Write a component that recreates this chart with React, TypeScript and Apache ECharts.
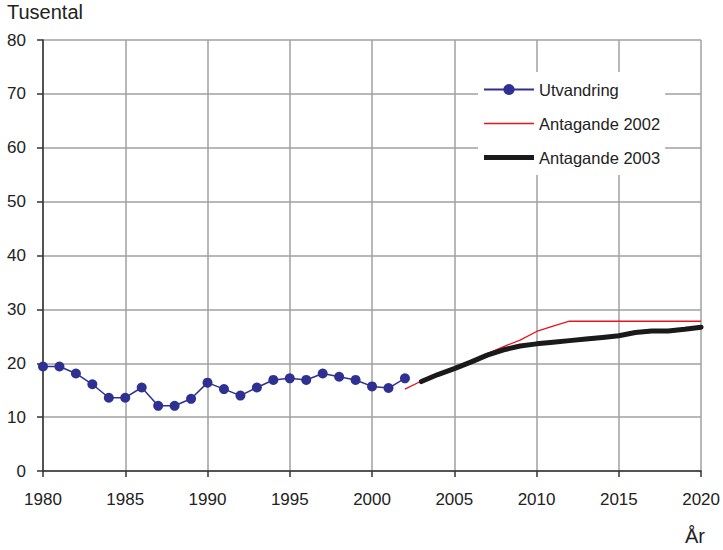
import React, { useEffect, useRef } from "react";
import * as echarts from "echarts";

const years: number[] = [1980, 1981, 1982, 1983, 1984, 1985, 1986, 1987, 1988, 1989, 1990, 1991, 1992, 1993, 1994, 1995, 1996, 1997, 1998, 1999, 2000, 2001, 2002];
const utvandring: number[] = [19.4, 19.4, 18.1, 16.1, 13.6, 13.6, 15.5, 12.1, 12.1, 13.4, 16.4, 15.2, 14.0, 15.5, 16.9, 17.2, 16.9, 18.1, 17.5, 16.9, 15.7, 15.4, 17.2];

const years2002: number[] = [2002, 2003, 2004, 2005, 2006, 2007, 2008, 2009, 2010, 2011, 2012, 2013, 2014, 2015, 2016, 2017, 2018, 2019, 2020];
const antagande2002: number[] = [15.2, 16.7, 18.0, 19.1, 20.3, 21.8, 23.1, 24.3, 25.9, 26.9, 27.8, 27.8, 27.8, 27.8, 27.8, 27.8, 27.8, 27.8, 27.8];

const years2003: number[] = [2003, 2004, 2005, 2006, 2007, 2008, 2009, 2010, 2011, 2012, 2013, 2014, 2015, 2016, 2017, 2018, 2019, 2020];
const antagande2003: number[] = [16.6, 17.9, 19.0, 20.2, 21.5, 22.5, 23.2, 23.6, 23.9, 24.2, 24.5, 24.8, 25.1, 25.7, 26.0, 26.0, 26.3, 26.7];

const seriesNames: string[] = ["Utvandring", "Antagande 2002", "Antagande 2003"];

const zip = (xs: number[], ys: number[]) => xs.map((x, i) => [x, ys[i]]);

const FONT = "'Liberation Sans', Arial, sans-serif";

export default function App() {
  const ref = useRef<HTMLDivElement>(null);
  useEffect(() => {
    if (!ref.current) return;
    const chart = echarts.init(ref.current, undefined, { renderer: "svg" });
    chart.setOption({
      animation: false,
      backgroundColor: "#ffffff",
      textStyle: { fontFamily: FONT },
      grid: { left: 43, right: 21, top: 40, bottom: 79, containLabel: false },
      xAxis: {
        type: "value",
        min: 1980,
        max: 2020,
        interval: 5,
        axisLine: { show: true, lineStyle: { color: "#333", width: 1.5 } },
        axisTick: { show: true, length: 6, lineStyle: { color: "#333", width: 1.5 } },
        axisLabel: { color: "#222", fontSize: 17, margin: 20, fontFamily: FONT, formatter: (v: number) => String(v) },
        splitLine: { show: true, lineStyle: { color: "#a0a0a0", width: 1.5 } },
      },
      yAxis: {
        type: "value",
        min: 0,
        max: 80,
        interval: 10,
        axisLine: { show: true, lineStyle: { color: "#333", width: 1.5 } },
        axisTick: { show: true, length: 6, lineStyle: { color: "#333", width: 1.5 } },
        axisLabel: { color: "#222", fontSize: 17, margin: 17, fontFamily: FONT },
        splitLine: { show: true, lineStyle: { color: "#a0a0a0", width: 1.5 } },
      },
      legend: {
        orient: "vertical",
        left: 478,
        top: 72,
        padding: [9, 5, 9, 5],
        backgroundColor: "#ffffff",
        itemWidth: 50,
        itemHeight: 14,
        itemGap: 17,
        textStyle: { color: "#222", fontSize: 16.5, fontFamily: FONT },
        data: [
          { name: seriesNames[0] },
          { name: seriesNames[1], icon: "path://M0,0L50,0L50,1.4L0,1.4Z" },
          { name: seriesNames[2], icon: "path://M0,0L50,0L50,5L0,5Z" },
        ],
      },
      graphic: [
        { type: "text", left: 7, top: 2, style: { text: "Tusental", fontSize: 20, fill: "#222", fontFamily: FONT } },
        { type: "text", left: 685, top: 526, style: { text: "År", fontSize: 20, fill: "#222", fontFamily: FONT } },
      ],
      series: [
        {
          name: seriesNames[0],
          type: "line",
          data: zip(years, utvandring),
          symbol: "circle",
          symbolSize: 10,
          color: "#2e3192",
          lineStyle: { color: "#2e3192", width: 1.5 },
          itemStyle: { color: "#2e3192" },
          z: 3,
        },
        {
          name: seriesNames[1],
          type: "line",
          data: zip(years2002, antagande2002),
          showSymbol: false,
          symbol: "none",
          color: "#e8141b",
          lineStyle: { color: "#e8141b", width: 1.3 },
          z: 2,
        },
        {
          name: seriesNames[2],
          type: "line",
          data: zip(years2003, antagande2003),
          showSymbol: false,
          symbol: "none",
          color: "#1a1a1a",
          lineStyle: { color: "#1a1a1a", width: 5, cap: "round", join: "round" },
          z: 4,
        },
      ],
    });
    return () => chart.dispose();
  }, []);
  return <div ref={ref} style={{ width: 723, height: 550, position: "absolute", left: 0, top: 0 }} />;
}
